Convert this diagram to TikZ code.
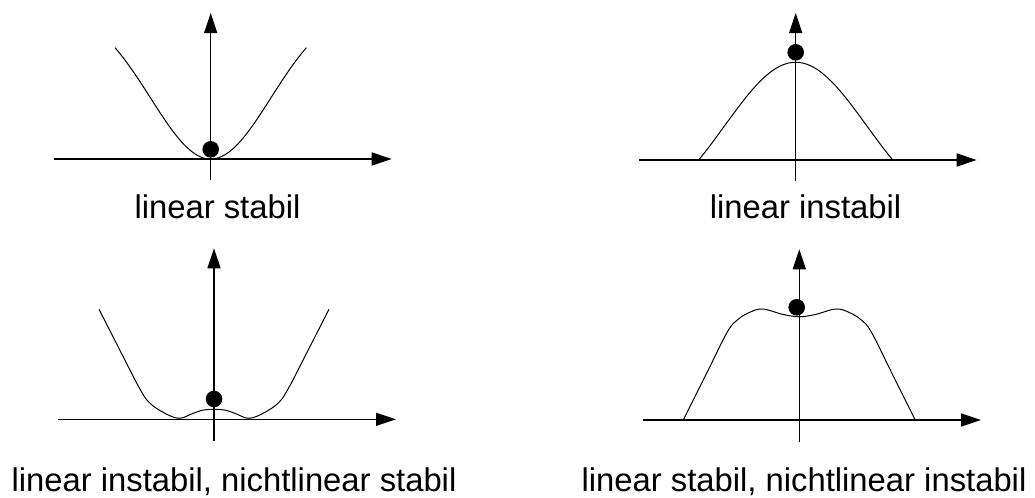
\documentclass[tikz,border=0pt]{standalone}
\usepackage{fontspec}
\setmainfont{Liberation Sans}
\usepackage{tikz}
\usetikzlibrary{arrows.meta}
\tikzset{
  axis/.style={line width=0.75pt, -{Triangle[length=10pt,width=6.5pt]}},
  curve/.style={line width=0.5pt},
  ball/.style={circle, fill=black, inner sep=0pt, minimum size=8.3pt},
  caption/.style={anchor=base, inner sep=0pt, font=\fontsize{16.4}{20}\selectfont},
}

\begin{document}
\begin{tikzpicture}[x=0.5pt, y=-0.5pt]
  \useasboundingbox (0,0) rectangle (1035,498);

  \begin{scope}[shift={(210.7,159)}, yscale=-1]
    \draw[axis] (-156.7,0) -- (181,0);
    \draw[axis] (0,-21) -- (0,146);
    \draw[curve] plot[domain=-95.7:95.7, samples=80] (\x,{155*(1-exp(-\x*\x/7225))});
    \node[ball] (ball1) at (0,9.7) {};
  \end{scope}

  \begin{scope}[shift={(795.7,160)}, yscale=-1]
    \draw[axis] (-156.7,0) -- (181,0);
    \draw[axis] (0,-21) -- (0,147);
    \draw[curve] plot[domain=-97:97, samples=80] (\x,{160.2*exp(-\x*\x/10000)-62.5});
    \node[ball] (ball2) at (0,107.7) {};
  \end{scope}

  \begin{scope}[shift={(214,419.3)}, yscale=-1]
    \draw[axis] (-156,0) -- (182,0);
    \draw[axis] (0,-22) -- (0,171);
    \draw[curve] plot[smooth, tension=0.6] coordinates {(-115,110) (-91,63) (-75,32) (-65,17)
      (-50,6.5) (-35,1) (-22,5.5) (-12,9) (0,10) (12,9) (22,5.5) (35,1) (50,6.5) (65,17)
      (75,32) (91,63) (115,110)};
    \node[ball] (ball3) at (0,20.3) {};
  \end{scope}

  \begin{scope}[shift={(799.3,420)}, yscale=-1]
    \draw[axis] (-156.6,0) -- (181.7,0);
    \draw[axis] (0,-22) -- (0,170.7);
    \draw[curve] plot[smooth, tension=0.6] coordinates {(-116,0) (-93,46) (-72,88) (-62,100)
      (-50,107.5) (-36.5,111) (-16,105.5) (0,103.3) (16,105.5) (36.5,111) (50,107.5) (62,100)
      (72,88) (93,46) (116,0)};
    \node[ball] (ball4) at (-2.6,112.7) {};
  \end{scope}

  \node[caption] (cap1) at (217.5,218.3) {linear stabil};
  \node[caption] (cap2) at (805.6,218) {linear instabil};
  \node[caption] (cap3) at (234,491.7) {linear instabil, nichtlinear stabil};
  \node[caption] (cap4) at (804,491.7) {linear stabil, nichtlinear instabil};
\end{tikzpicture}
\end{document}
